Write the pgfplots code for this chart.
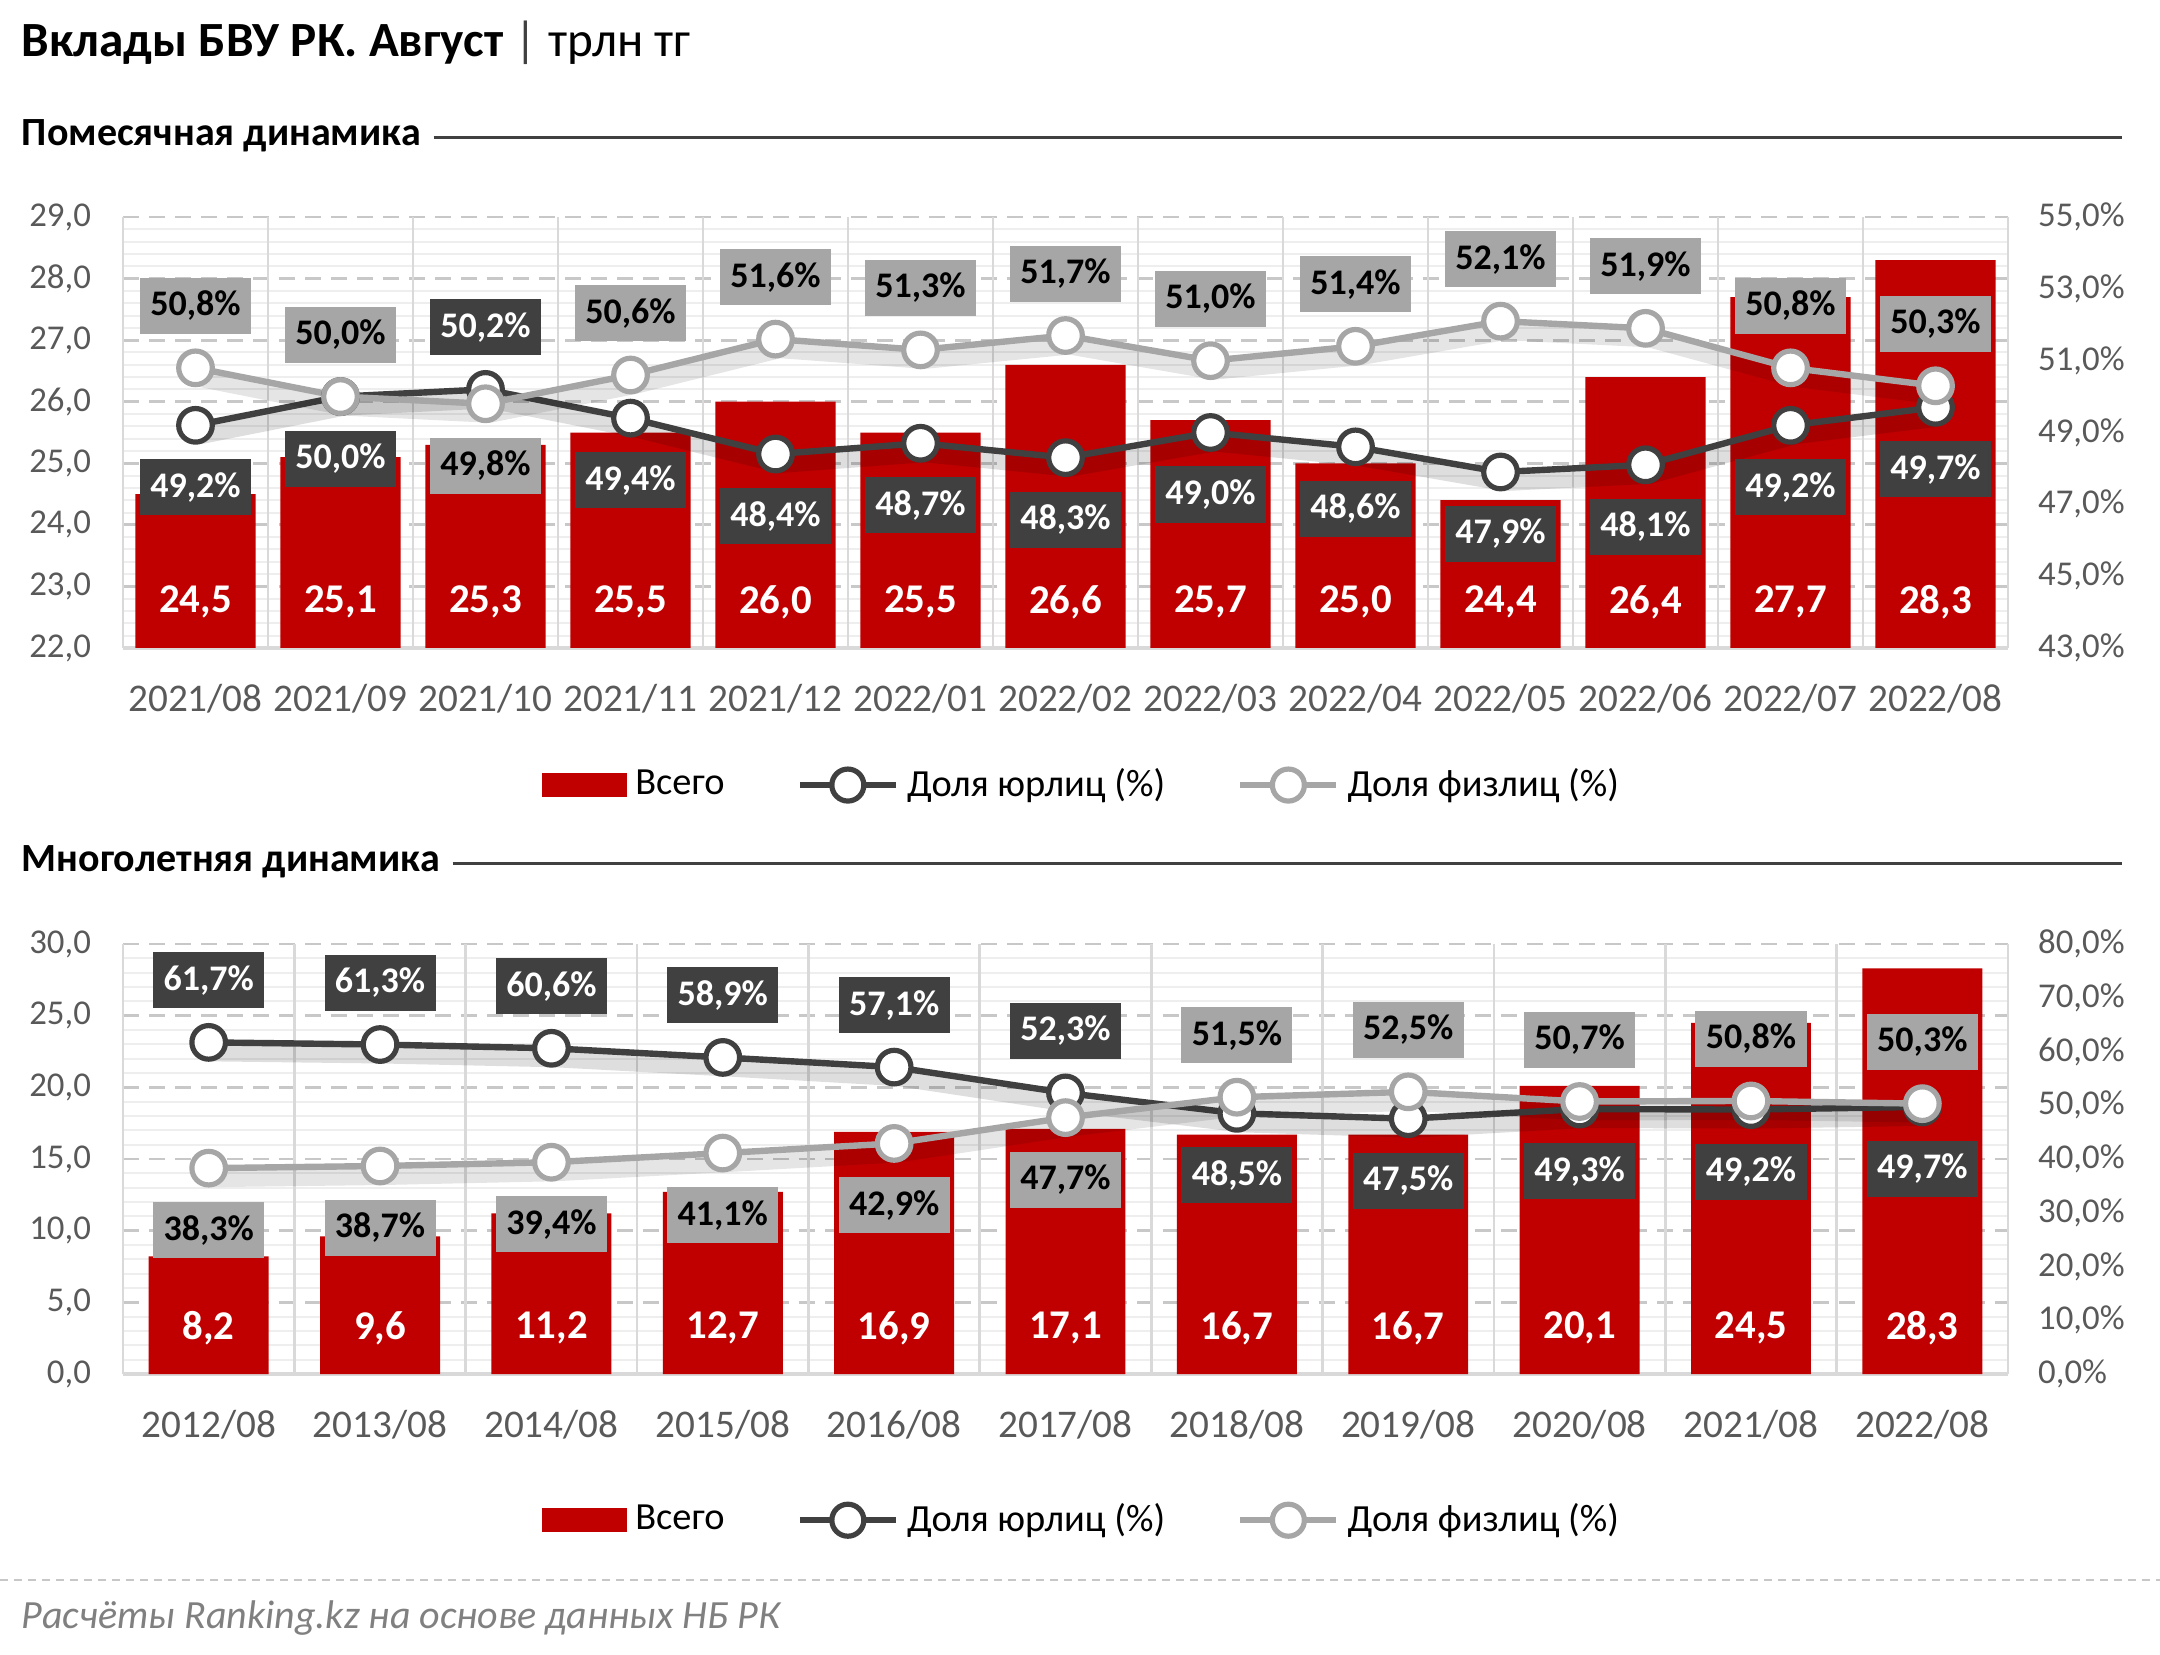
\documentclass[border=0pt]{standalone}
\usepackage{fontspec}
\setmainfont{Carlito}
\usepackage{pgfplots}
\usepackage{pgfplotstable}
\pgfplotsset{compat=1.18}
\definecolor{barred}{HTML}{C00000}
\definecolor{darkl}{HTML}{404040}
\definecolor{lightl}{HTML}{A6A6A6}
\definecolor{tickc}{HTML}{595959}
\definecolor{gridc}{HTML}{D9D9D9}
\definecolor{dashc}{HTML}{C8C8C8}
\definecolor{minorc}{HTML}{EEEEEE}
\makeatletter
\tikzset{nopre/.code={\let\tikz@preactions\pgfutil@empty}}
\makeatother

\pgfplotstableread{
x t j p pj pp
0 24.5 49.2 50.8 -1 1
1 25.1 50.0 50.0 -1 1
2 25.3 50.2 49.8 1 -1
3 25.5 49.4 50.6 -1 1
4 26.0 48.4 51.6 -1 1
5 25.5 48.7 51.3 -1 1
6 26.6 48.3 51.7 -1 1
7 25.7 49.0 51.0 -1 1
8 25.0 48.6 51.4 -1 1
9 24.4 47.9 52.1 -1 1
10 26.4 48.1 51.9 -1 1
11 27.7 49.2 50.8 -1 1
12 28.3 49.7 50.3 -1 1
}\monthly

\pgfplotstableread{
x t j p pj pp
0 8.2 61.7 38.3 1 -1
1 9.6 61.3 38.7 1 -1
2 11.2 60.6 39.4 1 -1
3 12.7 58.9 41.1 1 -1
4 16.9 57.1 42.9 1 -1
5 17.1 52.3 47.7 1 -1
6 16.7 48.5 51.5 -1 1
7 16.7 47.5 52.5 -1 1
8 20.1 49.3 50.7 -1 1
9 24.5 49.2 50.8 -1 1
10 28.3 49.7 50.3 -1 1
}\yearly

\pgfplotsset{
  common/.style={
    scale only axis, width=471.25pt,
    /pgf/number format/assume math mode=true,
    /pgf/number format/use comma,
    /pgf/number format/fixed,
    /pgf/number format/fixed zerofill,
    /pgf/number format/precision=1,
    tick style={draw=none},
    yticklabel style={font=\fontsize{8.7}{10}\selectfont, text=tickc},
    xticklabel style={font=\fontsize{9.8}{11}\selectfont, text=tickc},
  },
  leftax/.style={
    common,
    axis x line*=bottom, axis y line*=left,
    x axis line style={gridc, line width=0.9pt, -},
    y axis line style={draw=none},
    yticklabel style={xshift=-4.5pt},
    ymajorgrids, yminorgrids, minor y tick num=4,
    major y grid style={dashc, line width=0.7pt, dash pattern=on 4pt off 2.5pt},
    minor y grid style={minorc, line width=0.5pt},
    extra x tick style={grid=major, major x grid style={gridc, line width=0.7pt, solid}},
  },
  rightax/.style={
    common,
    axis y line*=right, axis x line=none,
    y axis line style={draw=none},
    yticklabel style={xshift=4pt},
    yticklabel={\pgfmathprintnumber{\tick}\%},
    legend style={draw=none, fill=none, legend columns=-1,
      font=\fontsize{9.6}{11}\selectfont,
      /tikz/every even column/.append style={column sep=16pt}},
    legend cell align=left,
  },
  pctlabel/.style={
    nodes near coords={\pgfmathprintnumber{\pgfplotspointmeta}\%},
    point meta=explicit,
    every node near coord/.append style={font=\bfseries\fontsize{9}{10}\selectfont,
      anchor=center, inner xsep=2.6pt, inner ysep=0pt, minimum height=14pt,
      yshift=\pos*15.5pt},
  },
  darkline/.style={darkl, line width=1.6pt, mark=*, mark size=4.2pt,
    preaction={draw=black, opacity=0.13, line width=4.5pt, transform canvas={xshift=1pt, yshift=-2.5pt}},
    mark options={fill=white, draw=darkl, line width=1.3pt, solid},
    legend image code/.code={\draw[nopre, mark repeat=2,mark phase=2,darkl, line width=1.6pt, mark=*, mark size=4pt, mark options={fill=white, draw=darkl, line width=1.3pt}] plot coordinates {(0pt,0pt) (12pt,0pt) (24pt,0pt)};},
    every node near coord/.append style={fill=darkl, text=white}},
  lightline/.style={lightl, line width=1.6pt, mark=*, mark size=4.2pt,
    preaction={draw=black, opacity=0.10, line width=4.5pt, transform canvas={xshift=1pt, yshift=-2.5pt}},
    mark options={fill=white, draw=lightl, line width=1.3pt, solid},
    legend image code/.code={\draw[nopre, mark repeat=2,mark phase=2,lightl, line width=1.6pt, mark=*, mark size=4pt, mark options={fill=white, draw=lightl, line width=1.3pt}] plot coordinates {(0pt,0pt) (12pt,0pt) (24pt,0pt)};},
    every node near coord/.append style={fill=lightl, text=black}},
}

\begin{document}
\begin{tikzpicture}
\useasboundingbox (0,0) rectangle (540pt,-413.75pt);

% titles
\node[anchor=base west, inner sep=0pt, font=\fontsize{12.3}{14}\selectfont] at (5.25pt,-14.25pt)
  {\textbf{Вклады БВУ РК. Август} \textcolor{darkl}{|} трлн тг};
\node[anchor=base west, inner sep=0pt, font=\bfseries\fontsize{10}{12}\selectfont] (s1) at (5.25pt,-36.5pt) {Помесячная динамика};
\draw[darkl, line width=0.7pt] ([xshift=3pt, yshift=2.2pt]s1.base east) -- (530.5pt,-34.3pt);
\node[anchor=base west, inner sep=0pt, font=\bfseries\fontsize{10}{12}\selectfont] (s2) at (5.25pt,-218pt) {Многолетняя динамика};
\draw[darkl, line width=0.7pt] ([xshift=3pt, yshift=2.2pt]s2.base east) -- (530.5pt,-215.8pt);
\draw[gridc!80!gray, line width=0.6pt, dash pattern=on 2pt off 1.5pt] (0pt,-395pt) -- (540pt,-395pt);
\node[anchor=base west, inner sep=0pt, font=\itshape\fontsize{10}{12}\selectfont, text=gray] at (5.25pt,-407pt) {Расчёты Ranking.kz на основе данных НБ РК};

% ---------- top chart ----------
\begin{axis}[leftax,
  at={(30.75pt,-162pt)}, anchor=south west, height=107.75pt,
  xmin=-0.5, xmax=12.5, ymin=22, ymax=29, ytick={22,23,...,29},
  xtick={0,...,12},
  xticklabels={2021/08,2021/09,2021/10,2021/11,2021/12,2022/01,2022/02,2022/03,2022/04,2022/05,2022/06,2022/07,2022/08},
  xticklabel style={yshift=-5.5pt},
  extra x ticks={-0.5,0.5,1.5,2.5,3.5,4.5,5.5,6.5,7.5,8.5,9.5,10.5,11.5,12.5},
  extra x tick labels={},
]
\addplot[ybar, bar width=0.83, fill=barred, draw=none,
  point meta=y,
  nodes near coords={\pgfmathprintnumber{\pgfplotspointmeta}},
  visualization depends on={rawy \as \ry},
  every node near coord/.append style={anchor=center, text=white,
    font=\bfseries\fontsize{10.2}{12}\selectfont, yshift={-(\ry-22.75)*15.392857pt}},
] table[x=x, y=t] {\monthly};
\end{axis}

\begin{axis}[rightax,
  at={(30.75pt,-162pt)}, anchor=south west, height=107.75pt,
  xmin=-0.5, xmax=12.5, ymin=43, ymax=55, ytick={43,45,...,55},
  legend style={at={(0.51,-0.318)}, anchor=center},
]
\addlegendimage{legend image code/.code={\fill[barred] (0pt,-2.8pt) rectangle (21pt,2.8pt);}}
\addlegendentry{Всего}
\addplot[darkline, pctlabel, visualization depends on={\thisrow{pj} \as \pos}]
  table[x=x, y=j, meta=j] {\monthly};
\addlegendentry{Доля юрлиц (\%)}
\addplot[lightline, pctlabel, visualization depends on={\thisrow{pp} \as \pos}]
  table[x=x, y=p, meta=p] {\monthly};
\addlegendentry{Доля физлиц (\%)}
\end{axis}

% ---------- bottom chart ----------
\begin{axis}[leftax,
  at={(30.75pt,-343.5pt)}, anchor=south west, height=107.5pt,
  xmin=-0.5, xmax=10.5, ymin=0, ymax=30, ytick={0,5,...,30},
  xtick={0,...,10},
  xticklabels={2012/08,2013/08,2014/08,2015/08,2016/08,2017/08,2018/08,2019/08,2020/08,2021/08,2022/08},
  xticklabel style={yshift=-5.5pt},
  extra x ticks={-0.5,0.5,1.5,2.5,3.5,4.5,5.5,6.5,7.5,8.5,9.5,10.5},
  extra x tick labels={},
]
\addplot[ybar, bar width=0.7, fill=barred, draw=none,
  point meta=y,
  nodes near coords={\pgfmathprintnumber{\pgfplotspointmeta}},
  visualization depends on={rawy \as \ry},
  every node near coord/.append style={anchor=center, text=white,
    font=\bfseries\fontsize{10.2}{12}\selectfont, yshift={-(\ry-3.2)*3.583333pt}},
] table[x=x, y=t] {\yearly};
\end{axis}

\begin{axis}[rightax,
  at={(30.75pt,-343.5pt)}, anchor=south west, height=107.5pt,
  xmin=-0.5, xmax=10.5, ymin=0, ymax=80, ytick={0,10,...,80},
  legend style={at={(0.51,-0.34)}, anchor=center},
]
\addlegendimage{legend image code/.code={\fill[barred] (0pt,-2.8pt) rectangle (21pt,2.8pt);}}
\addlegendentry{Всего}
\addplot[darkline, pctlabel, visualization depends on={\thisrow{pj} \as \pos}]
  table[x=x, y=j, meta=j] {\yearly};
\addlegendentry{Доля юрлиц (\%)}
\addplot[lightline, pctlabel, visualization depends on={\thisrow{pp} \as \pos}]
  table[x=x, y=p, meta=p] {\yearly};
\addlegendentry{Доля физлиц (\%)}
\end{axis}
\end{tikzpicture}
\end{document}
